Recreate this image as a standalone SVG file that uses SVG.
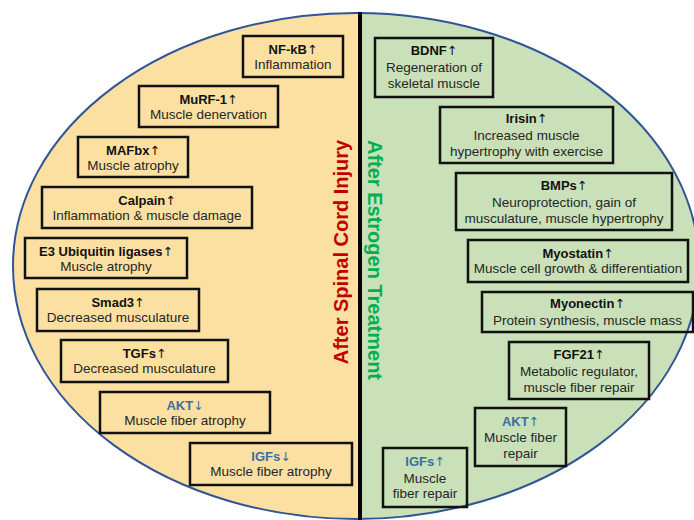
<svg xmlns="http://www.w3.org/2000/svg" width="694" height="520" viewBox="0 0 694 520">
<style>
.box{fill:none;stroke:#111;stroke-width:2.5}
.t{font-family:"Liberation Sans",Arial,sans-serif;font-size:13px;font-weight:bold;fill:#111;text-anchor:middle}
.tb{fill:#3A6EA5}
.d{font-family:"Liberation Sans",Arial,sans-serif;font-size:13.5px;fill:#262626;text-anchor:middle}
.ar{font-family:"DejaVu Sans",sans-serif;font-weight:normal;font-size:12.5px}
.side{font-family:"Liberation Sans",Arial,sans-serif;font-size:20px;font-weight:bold;text-anchor:middle}
</style>
<defs>
<clipPath id="leftHalf"><rect x="0" y="0" width="360" height="520"/></clipPath>
</defs>
<rect x="0" y="0" width="694" height="520" fill="#ffffff"/>
<g id="background">
<ellipse cx="356" cy="266" rx="343" ry="253" fill="#C9E0B9"/>
<ellipse cx="356" cy="266" rx="343" ry="253" fill="#FBE0A1" clip-path="url(#leftHalf)"/>
<ellipse cx="356" cy="266" rx="343" ry="253" fill="none" stroke="#2F5597" stroke-width="2"/>
<line x1="360" y1="12" x2="360" y2="520" stroke="#000" stroke-width="4"/>
<text class="side" fill="#C00000" transform="translate(348,252) rotate(-90)">After Spinal Cord Injury</text>
<text class="side" fill="#00B050" transform="translate(368,260) rotate(90)">After Estrogen Treatment</text>
</g>
<g id="connectors"></g>
<g id="nfkb"><rect class="box" x="243" y="36" width="100" height="41"/><text class="t" x="293" y="54">NF-kB<tspan class="ar">↑</tspan></text><text class="d" x="293" y="69">Inflammation</text></g>
<g id="murf1"><rect class="box" x="139" y="86" width="139" height="41"/><text class="t" x="208.5" y="104">MuRF-1<tspan class="ar">↑</tspan></text><text class="d" x="208.5" y="119">Muscle denervation</text></g>
<g id="mafbx"><rect class="box" x="78" y="137" width="110" height="40"/><text class="t" x="133" y="155">MAFbx<tspan class="ar">↑</tspan></text><text class="d" x="133" y="170">Muscle atrophy</text></g>
<g id="calpain"><rect class="box" x="42" y="187" width="210" height="41"/><text class="t" x="147" y="205">Calpain<tspan class="ar">↑</tspan></text><text class="d" x="147" y="220">Inflammation &amp; muscle damage</text></g>
<g id="e3"><rect class="box" x="25" y="238" width="162" height="40"/><text class="t" x="106" y="256">E3 Ubiquitin  ligases<tspan class="ar">↑</tspan></text><text class="d" x="106" y="271">Muscle atrophy</text></g>
<g id="smad3"><rect class="box" x="37" y="289" width="162" height="42"/><text class="t" x="118" y="307">Smad3<tspan class="ar">↑</tspan></text><text class="d" x="118" y="322">Decreased musculature</text></g>
<g id="tgfs"><rect class="box" x="61" y="340" width="167" height="42"/><text class="t" x="144.5" y="358">TGFs<tspan class="ar">↑</tspan></text><text class="d" x="144.5" y="373">Decreased musculature</text></g>
<g id="akt-down"><rect class="box" x="100" y="392" width="170" height="41"/><text class="t tb" x="185" y="410">AKT<tspan class="ar">↓</tspan></text><text class="d" x="185" y="425">Muscle fiber atrophy</text></g>
<g id="igfs-down"><rect class="box" x="190" y="443" width="162" height="42"/><text class="t tb" x="271" y="461">IGFs<tspan class="ar">↓</tspan></text><text class="d" x="271" y="476">Muscle fiber atrophy</text></g>
<g id="bdnf"><rect class="box" x="375" y="38" width="118" height="59"/><text class="t" x="434" y="55">BDNF<tspan class="ar">↑</tspan></text><text class="d" x="434" y="72">Regeneration of</text><text class="d" x="434" y="88">skeletal muscle</text></g>
<g id="irisin"><rect class="box" x="440" y="107" width="173" height="56"/><text class="t" x="526.5" y="123">Irisin<tspan class="ar">↑</tspan></text><text class="d" x="526.5" y="140">Increased muscle</text><text class="d" x="526.5" y="156">hypertrophy  with exercise</text></g>
<g id="bmps"><rect class="box" x="456" y="173" width="216" height="57"/><text class="t" x="564" y="190">BMPs<tspan class="ar">↑</tspan></text><text class="d" x="564" y="207">Neuroprotection, gain of</text><text class="d" x="564" y="223">musculature, muscle hypertrophy</text></g>
<g id="myostatin"><rect class="box" x="468" y="240" width="220" height="42"/><text class="t" x="578" y="258">Myostatin<tspan class="ar">↑</tspan></text><text class="d" x="578" y="273">Muscle cell growth &amp; differentiation</text></g>
<g id="myonectin"><rect class="box" x="482" y="292" width="211" height="40"/><text class="t" x="587.5" y="308">Myonectin<tspan class="ar">↑</tspan></text><text class="d" x="587.5" y="325">Protein synthesis, muscle mass</text></g>
<g id="fgf21"><rect class="box" x="509" y="342" width="140" height="57"/><text class="t" x="579" y="359">FGF21<tspan class="ar">↑</tspan></text><text class="d" x="579" y="376">Metabolic regulator,</text><text class="d" x="579" y="392">muscle fiber repair</text></g>
<g id="akt-up"><rect class="box" x="475" y="408" width="91" height="58"/><text class="t tb" x="520.5" y="426">AKT<tspan class="ar">↑</tspan></text><text class="d" x="520.5" y="442">Muscle fiber</text><text class="d" x="520.5" y="458">repair</text></g>
<g id="igfs-up"><rect class="box" x="383" y="448" width="84" height="59"/><text class="t tb" x="425" y="466">IGFs<tspan class="ar">↑</tspan></text><text class="d" x="425" y="483">Muscle</text><text class="d" x="425" y="498">fiber repair</text></g>
</svg>
